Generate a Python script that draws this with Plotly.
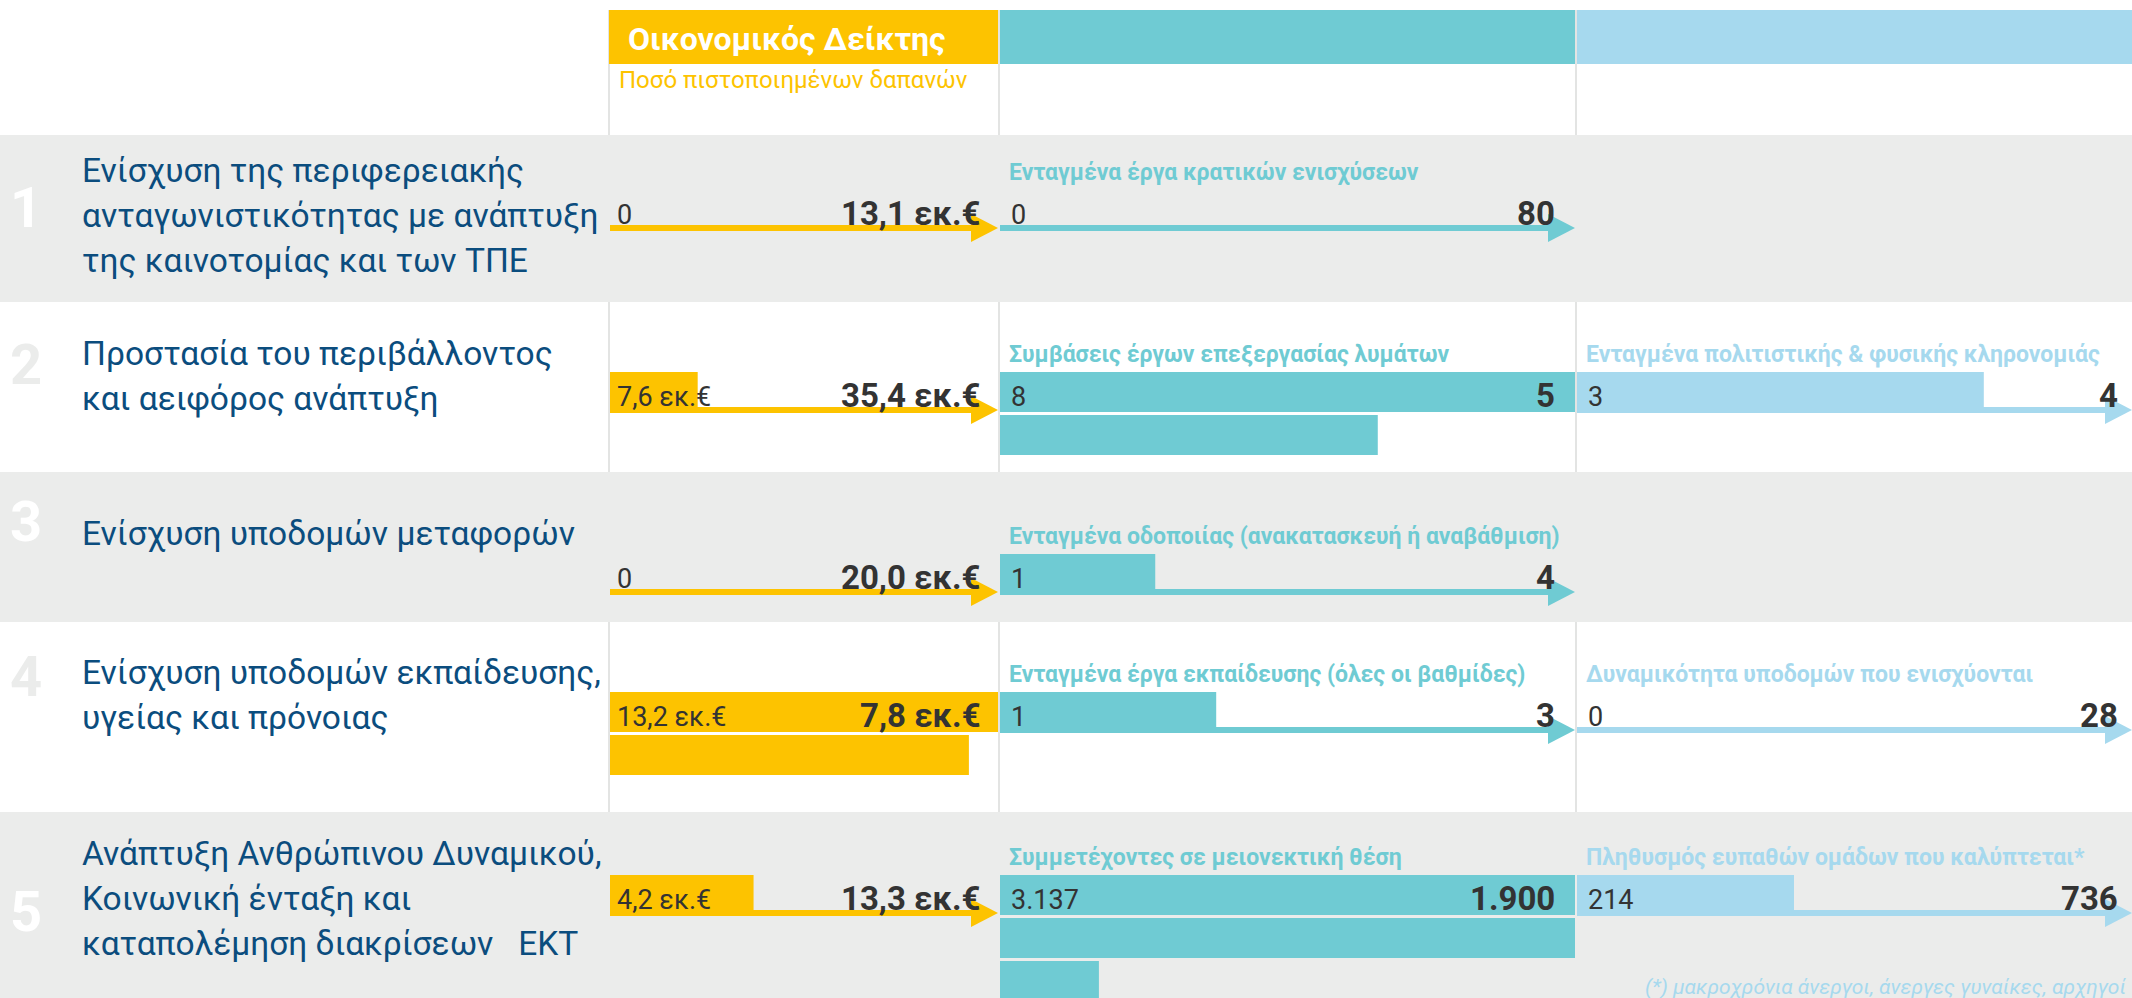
import plotly.graph_objects as go

# ------------------------------------------------------------------ data
row_numbers = ["1", "2", "3", "4", "5"]
row_titles = [
    ["Ενίσχυση της περιφερειακής", "ανταγωνιστικότητας με ανάπτυξη", "της καινοτομίας και των ΤΠΕ"],
    ["Προστασία του περιβάλλοντος", "και αειφόρος ανάπτυξη"],
    ["Ενίσχυση υποδομών μεταφορών"],
    ["Ενίσχυση υποδομών εκπαίδευσης,", "υγείας και πρόνοιας"],
    ["Ανάπτυξη Ανθρώπινου Δυναμικού,", "Κοινωνική ένταξη και", "καταπολέμηση διακρίσεων   ΕΚΤ"],
]

header_title = "Οικονομικός Δείκτης"
header_subtitle = "Ποσό πιστοποιημένων δαπανών"
footnote = "(*) μακροχρόνια άνεργοι, άνεργες γυναίκες, αρχηγοί"

# financial indicator (million €)
fin_titles = [None, None, None, None, None]
fin_actual = [0, 7.6, 0, 13.2, 4.2]
fin_target = [13.1, 35.4, 20.0, 7.8, 13.3]
fin_drawn = [0, 0.226, 0, 1.925, 0.370]      # bar length as drawn, in multiples of target

# output indicator 1
out_titles = [
    "Ενταγμένα έργα κρατικών ενισχύσεων",
    "Συμβάσεις έργων επεξεργασίας λυμάτων",
    "Ενταγμένα οδοποιίας (ανακατασκευή ή αναβάθμιση)",
    "Ενταγμένα έργα εκπαίδευσης (όλες οι βαθμίδες)",
    "Συμμετέχοντες σε μειονεκτική θέση",
]
out_actual = [0, 8, 1, 1, 3137]
out_target = [80, 5, 4, 3, 1900]
out_drawn = [0, 1.657, 0.270, 0.376, 2.172]

# output indicator 2
res_titles = [
    None,
    "Ενταγμένα πολιτιστικής & φυσικής κληρονομιάς",
    None,
    "Δυναμικότητα υποδομών που ενισχύονται",
    "Πληθυσμός ευπαθών ομάδων που καλύπτεται*",
]
res_actual = [None, 3, None, 0, 214]
res_target = [None, 4, None, 28, 736]
res_drawn = [None, 0.733, None, 0, 0.391]


def fmt_eur(v):
    return "0" if v == 0 else f"{v:.1f}".replace(".", ",") + " εκ.€"


def fmt_int(v):
    return f"{v:,}".replace(",", ".")


# ------------------------------------------------------------------ layout constants
W, H = 2132, 998
FONT = "Roboto"
YELLOW, TEAL, BLUE = "#FDC300", "#6FCBD3", "#A6D9EE"
GRAY_BAND = "#EBECEB"
NAVY = "#0B4D7E"
DARK = "#333333"

row_bounds = [135, 302, 472, 622, 812, 998]
row_bg = [GRAY_BAND, "white", GRAY_BAND, "white", GRAY_BAND]
num_color = ["white", "#EBECEB", "white", "#EBECEB", "white"]
arrow_y = [228, 410, 592, 730, 913]
num_y = [208, 365, 522, 677, 912]
text_y0 = [170, 353, 533, 672, 853]
LINE_PITCH = 45

columns = [
    dict(axis="x2", px=(610, 998), color=YELLOW, titles=fin_titles, actual=fin_actual,
         target=fin_target, drawn=fin_drawn, fmt=fmt_eur, lshift=5, rshift=-15),
    dict(axis="x3", px=(1000, 1575), color=TEAL, titles=out_titles, actual=out_actual,
         target=out_target, drawn=out_drawn, fmt=fmt_int, lshift=9, rshift=-18),
    dict(axis="x4", px=(1577, 2132), color=BLUE, titles=res_titles, actual=res_actual,
         target=res_target, drawn=res_drawn, fmt=fmt_int, lshift=9, rshift=-12),
]

BAR_H = 40
BAR_PITCH = 43
HEAD_LEN = 27
HEAD_HALF = 14

fig = go.Figure()
shapes = []
annotations = []

# separator lines (drawn first, covered by gray bands)
for xp in (609, 999, 1576):
    shapes.append(dict(type="line", xref="paper", yref="y", x0=xp / W, x1=xp / W, y0=10, y1=H,
                       line=dict(color="#E3E4E3", width=2), layer="below"))
# row bands
for i in range(5):
    if row_bg[i] != "white":
        shapes.append(dict(type="rect", xref="paper", yref="y", x0=0, x1=1,
                           y0=row_bounds[i], y1=row_bounds[i + 1],
                           fillcolor=row_bg[i], line=dict(width=0), layer="below"))
# header boxes
for col in columns:
    x0, x1 = col["px"]
    if col["axis"] == "x2":
        x0 = 609
    shapes.append(dict(type="rect", xref="paper", yref="y", x0=x0 / W, x1=x1 / W, y0=10, y1=64,
                       fillcolor=col["color"], line=dict(width=0), layer="below"))

annotations.append(dict(text="<b>" + header_title + "</b>", xref="paper", yref="y", x=626 / W, y=39,
                        xanchor="left", yanchor="middle", showarrow=False,
                        font=dict(family=FONT, size=32, color="white")))
annotations.append(dict(text=header_subtitle, xref="paper", yref="y", x=617 / W, y=80,
                        xanchor="left", yanchor="middle", showarrow=False,
                        font=dict(family=FONT, size=24, color=YELLOW)))

# row numbers and titles
for i in range(5):
    annotations.append(dict(text="<b>" + row_numbers[i] + "</b>", xref="paper", yref="y",
                            x=26 / W, y=num_y[i], xanchor="center", yanchor="middle",
                            showarrow=False, font=dict(family=FONT, size=56, color=num_color[i])))
    for j, line in enumerate(row_titles[i]):
        annotations.append(dict(text=line, xref="paper", yref="y", x=80 / W,
                                y=text_y0[i] + j * LINE_PITCH, xanchor="left", yanchor="middle",
                                showarrow=False, font=dict(family=FONT, size=33.5, color=NAVY)))

# indicator cells
for col in columns:
    ax = col["axis"]
    c = col["color"]
    head_frac = HEAD_LEN / (col["px"][1] - col["px"][0])
    for i in range(5):
        if col["target"][i] is None:
            continue
        ya = arrow_y[i]
        r = col["drawn"][i]
        # arrow when the bar does not reach the target
        if r < 1:
            fig.add_trace(go.Scatter(x=[0, 1 - head_frac], y=[ya, ya], mode="lines",
                                     line=dict(color=c, width=6), xaxis=ax, yaxis="y",
                                     hoverinfo="skip", showlegend=False))
            fig.add_trace(go.Scatter(x=[1 - head_frac, 1, 1 - head_frac, 1 - head_frac],
                                     y=[ya - HEAD_HALF, ya, ya + HEAD_HALF, ya - HEAD_HALF],
                                     mode="lines", fill="toself", fillcolor=c,
                                     line=dict(color=c, width=0), xaxis=ax, yaxis="y",
                                     hoverinfo="skip", showlegend=False))
        # progress bars, wrapping onto new lines beyond the target
        k = 0
        while r - k > 1e-9:
            seg = min(1.0, r - k)
            fig.add_trace(go.Bar(x=[seg], base=[0], y=[ya - 18 + k * BAR_PITCH], width=BAR_H,
                                 orientation="h", marker=dict(color=c, line=dict(width=0)),
                                 xaxis=ax, yaxis="y", hoverinfo="skip", showlegend=False))
            k += 1
        # texts
        if col["titles"][i]:
            annotations.append(dict(text="<b>" + col["titles"][i] + "</b>", xref=ax, yref="y",
                                    x=0, y=ya - 56, xanchor="left", yanchor="middle", xshift=7,
                                    showarrow=False, font=dict(family=FONT, size=23, color=c)))
        annotations.append(dict(text=col["fmt"](col["actual"][i]), xref=ax, yref="y", x=0,
                                y=ya - 13, xanchor="left", yanchor="middle", xshift=col["lshift"],
                                showarrow=False, font=dict(family=FONT, size=27, color=DARK)))
        annotations.append(dict(text="<b>" + col["fmt"](col["target"][i]) + "</b>", xref=ax,
                                yref="y", x=1, y=ya - 15, xanchor="right", yanchor="middle",
                                xshift=col["rshift"], showarrow=False,
                                font=dict(family=FONT, size=33, color=DARK)))

annotations.append(dict(text="<i>" + footnote + "</i>", xref="paper", yref="y", x=2128 / W, y=987,
                        xanchor="right", yanchor="middle", showarrow=False,
                        font=dict(family=FONT, size=21, color=BLUE)))

axis_common = dict(range=[0, 1], visible=False, showgrid=False, zeroline=False, fixedrange=True)
fig.update_layout(
    width=W, height=H,
    margin=dict(l=0, r=0, t=0, b=0),
    paper_bgcolor="white", plot_bgcolor="rgba(0,0,0,0)",
    barmode="overlay",
    showlegend=False,
    xaxis2=dict(domain=[columns[0]["px"][0] / W, columns[0]["px"][1] / W], anchor="y", **axis_common),
    xaxis3=dict(domain=[columns[1]["px"][0] / W, columns[1]["px"][1] / W], anchor="y", **axis_common),
    xaxis4=dict(domain=[columns[2]["px"][0] / W, columns[2]["px"][1] / W], anchor="y", **axis_common),
    yaxis=dict(domain=[0, 1], range=[H, 0], visible=False, showgrid=False, zeroline=False,
               fixedrange=True, anchor="x2"),
    shapes=shapes,
    annotations=annotations,
)

fig.write_html("out.html", config={"displayModeBar": False})
